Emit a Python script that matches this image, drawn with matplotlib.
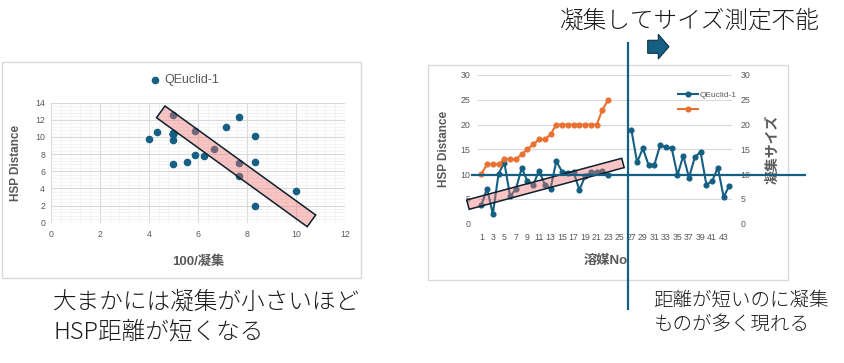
import numpy as np
import matplotlib
matplotlib.use("Agg")
import matplotlib.pyplot as plt
from matplotlib.patches import Polygon, Rectangle
from matplotlib.lines import Line2D
from matplotlib.ticker import MultipleLocator

plt.rcParams['font.family'] = ['Liberation Sans', 'Noto Sans CJK JP']

# ---- data ----
solvent_no = list(range(1, 45))
hsp_distance = [3.7, 7.1, 1.95, 10.1, 12.3, 5.5, 7.0, 11.2, 8.6, 7.8, 10.7, 7.9, 7.1,
                12.6, 10.5, 10.3, 10.4, 6.8, 9.6, 10.4, 10.4, 10.6, 9.8,
                np.nan, np.nan, np.nan,
                19.0, 12.4, 15.2, 11.8, 11.9, 15.9, 15.4, 15.2, 9.8, 13.7, 9.3, 13.4,
                14.5, 7.9, 8.6, 11.3, 5.4, 7.7]
agg_size = [10, 12, 12, 12, 13, 13, 13, 14, 15, 16, 17, 17, 18,
            20, 20, 20, 20, 20, 20, 20, 20, 23, 25]
series_name = "QEuclid-1"
x_ticks_right = list(range(1, 44, 2))

# scatter: 100/aggregate size vs HSP distance (measurable solvents only)
inv_agg = [100.0 / s for s in agg_size]
hsp_measured = hsp_distance[:len(agg_size)]

BLUE = '#156082'
ORANGE = '#E97132'
GRAY = '#595959'

W, H = 845, 363
fig = plt.figure(figsize=(W / 100, H / 100), dpi=100)
fig.patch.set_facecolor('white')

def fx(x):
    return x / W

def fy(y):
    return 1 - y / H

# ---- frames ----
fig.add_artist(Rectangle((fx(2), fy(278)), (361 - 2) / W, (278 - 62) / H,
                         transform=fig.transFigure, fill=False, edgecolor='#D9D9D9', lw=1))
fig.add_artist(Rectangle((fx(428), fy(280)), (788 - 428) / W, (280 - 65) / H,
                         transform=fig.transFigure, fill=False, edgecolor='#D9D9D9', lw=1))

TICK = 6.3

# ---- left scatter ----
ax1 = fig.add_axes([fx(50.7), fy(222.7), 294.3 / W, 120 / H])
ax1.scatter(inv_agg, hsp_measured, s=20, color=BLUE, zorder=3, label=series_name)
ax1.set_xlim(0, 12)
ax1.set_ylim(0, 14)
ax1.xaxis.set_major_locator(MultipleLocator(2))
ax1.yaxis.set_major_locator(MultipleLocator(2))
ax1.xaxis.set_minor_locator(MultipleLocator(0.4))
ax1.yaxis.set_minor_locator(MultipleLocator(0.4))
ax1.grid(which='major', color='#D9D9D9', lw=0.8)
ax1.grid(which='minor', color='#EFEFEF', lw=0.5)
ax1.set_axisbelow(True)
for s in ax1.spines.values():
    s.set_visible(False)
ax1.tick_params(which='both', length=0, labelsize=TICK, labelcolor=GRAY)
ax1.tick_params(axis='x', pad=5)
ax1.tick_params(axis='y', pad=4)
ax1.set_xlabel("100/凝集", fontsize=9.5, fontweight='bold', color=GRAY)
ax1.set_ylabel("HSP Distance", fontsize=8.5, fontweight='bold', color=GRAY)
ax1.xaxis.set_label_coords(0.5, -(255 - 222.7) / 120, transform=ax1.transAxes)
ax1.yaxis.set_label_coords(-(50.7 - 22.5) / 294.3, 0.5)
ax1.legend(loc='center', bbox_to_anchor=(fx(184), fy(80)), bbox_transform=fig.transFigure,
           frameon=False, fontsize=9, handletextpad=0.2, labelcolor=GRAY,
           borderpad=0, handlelength=1.0)

# ---- right line chart ----
ax2 = fig.add_axes([fx(478.4), fy(223.7), 253.9 / W, 148.7 / H])
ax2.plot(solvent_no, hsp_distance, color=BLUE, lw=1.5, marker='o', ms=3.4, label=series_name, zorder=3)
ax3 = ax2.twinx()
ax3.plot(solvent_no[:len(agg_size)], agg_size, color=ORANGE, lw=1.5, marker='o', ms=3.4, label=' ', zorder=3)
for a in (ax2, ax3):
    a.set_xlim(0.5, 44.5)
    a.set_ylim(0, 30)
    a.yaxis.set_major_locator(MultipleLocator(5))
    for s in a.spines.values():
        s.set_visible(False)
    a.tick_params(length=0, labelsize=TICK, labelcolor=GRAY, pad=6)
ax2.set_xticks(x_ticks_right)
ax2.set_xticklabels([str(t) for t in x_ticks_right])
ax2.tick_params(axis='x', pad=7)
ax2.grid(axis='y', color='#D9D9D9', lw=0.8)
ax2.set_axisbelow(True)
ax2.set_xlabel("溶媒No", fontsize=9.5, fontweight='bold', color=GRAY)
ax2.xaxis.set_label_coords(0.5, -(255 - 223.7) / 148.7)
ax2.set_ylabel("HSP Distance", fontsize=8.5, fontweight='bold', color=GRAY)
ax2.yaxis.set_label_coords(-(478.4 - 450) / 253.9, 0.5)
ax3.set_ylabel("凝集サイズ", fontsize=10, fontweight='bold', color=GRAY, rotation=90)
ax3.yaxis.set_label_coords(1 + (765 - 732.3) / 253.9, 0.5)

h1, l1 = ax2.get_legend_handles_labels()
h2, l2 = ax3.get_legend_handles_labels()
leg = ax3.legend(h1 + h2, l1 + l2, loc='upper left', bbox_to_anchor=(fx(674), fy(87)),
                 bbox_transform=fig.transFigure, frameon=False, fontsize=6,
                 handlelength=2.4, handletextpad=0.15, labelspacing=0.8,
                 borderpad=0, labelcolor=GRAY)

# ---- annotation shapes ----
band_left = [(165, 106), (315.7, 215), (307.2, 226.7), (156.5, 117.7)]
band_right = [(466.7, 200), (621.7, 158.3), (624.2, 167.6), (469.2, 209.3)]
for pts in (band_left, band_right):
    fig.add_artist(Polygon([(fx(x), fy(y)) for x, y in pts], closed=True,
                           transform=fig.transFigure, facecolor=(0.94, 0.45, 0.45, 0.42),
                           edgecolor='#0D1F2D', lw=1.1, zorder=10))

fig.add_artist(Line2D([fx(627.7), fx(627.7)], [fy(43.3), fy(309)], transform=fig.transFigure,
                      color=BLUE, lw=1.6, zorder=11))
fig.add_artist(Line2D([fx(471.7), fx(805)], [fy(174.8), fy(174.8)], transform=fig.transFigure,
                      color=BLUE, lw=1.6, zorder=11))

arrow = [(647.7, 40.3), (658.3, 40.3), (658.3, 34.3), (669, 46.7), (658.3, 59),
         (658.3, 53.3), (647.7, 53.3)]
fig.add_artist(Polygon([(fx(x), fy(y)) for x, y in arrow], closed=True, transform=fig.transFigure,
                       facecolor=BLUE, edgecolor='#0B3346', lw=0.8, zorder=11))

# ---- texts ----
jp = ['Noto Sans CJK JP', 'DejaVu Sans']
kw = dict(family=jp, ha='left', va='center', color='#1a1a1a', fontweight='light')
fig.text(fx(560), fy(21), "凝集してサイズ測定不能", fontsize=17, **kw)
fig.text(fx(53), fy(302.5), "大まかには凝集が小さいほど", fontsize=17, **kw)
fig.text(fx(53), fy(332.5), "HSP距離が短くなる", fontsize=17, **kw)
fig.text(fx(653), fy(300.5), "距離が短いのに凝集", fontsize=14, **kw)
fig.text(fx(653), fy(325.5), "ものが多く現れる", fontsize=14, **kw)

fig.savefig("out.png", dpi=100, facecolor='white')
